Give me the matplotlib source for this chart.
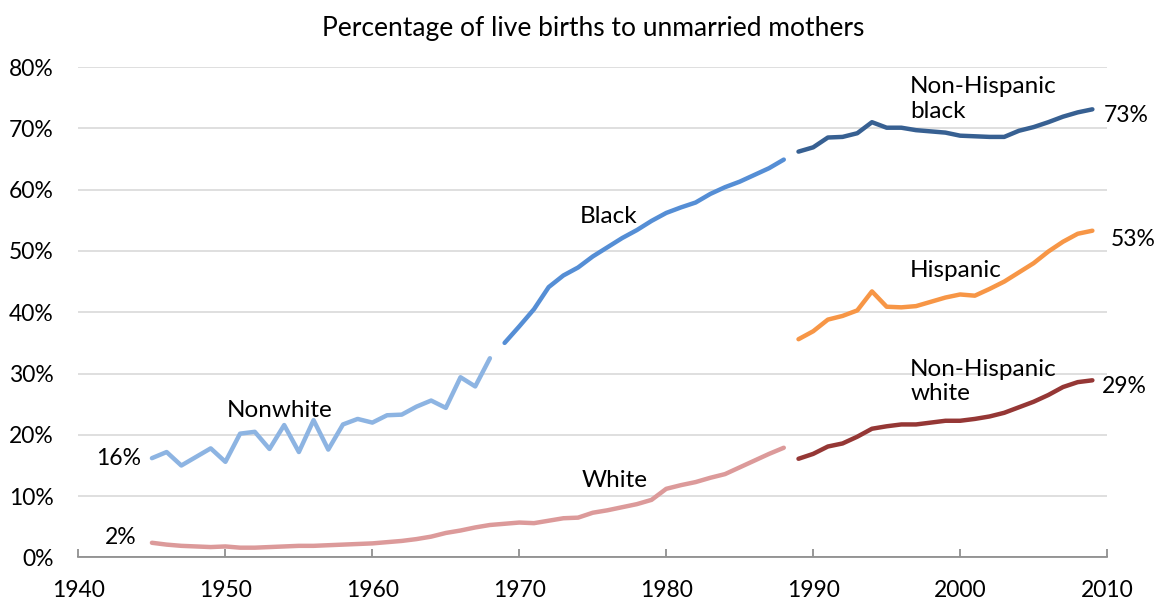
import numpy as np
import matplotlib.pyplot as plt

plt.rcParams['font.family'] = ['Lato', 'DejaVu Sans']

# Percentage of live births to unmarried mothers
nonwhite_years = list(range(1945, 1969))
nonwhite = [16.2, 17.2, 15.0, 16.4, 17.8, 15.6, 20.2, 20.5, 17.7, 21.6, 17.2, 22.4,
            17.6, 21.7, 22.6, 22.0, 23.2, 23.3, 24.6, 25.6, 24.4, 29.4, 27.9, 32.5]

black_years = list(range(1969, 1989))
black = [35.0, 37.7, 40.5, 44.1, 46.0, 47.3, 49.1, 50.6, 52.1, 53.4, 54.9, 56.2,
         57.1, 57.9, 59.3, 60.4, 61.3, 62.4, 63.5, 64.9]

white_years = list(range(1945, 1989))
white = [2.4, 2.1, 1.9, 1.8, 1.7, 1.8, 1.6, 1.6, 1.7, 1.8, 1.9, 1.9, 2.0, 2.1, 2.2,
         2.3, 2.5, 2.7, 3.0, 3.4, 4.0, 4.4, 4.9, 5.3, 5.5, 5.7, 5.6, 6.0, 6.4, 6.5,
         7.3, 7.7, 8.2, 8.7, 9.4, 11.2, 11.8, 12.3, 13.0, 13.6, 14.7, 15.8, 16.9, 17.9]

recent_years = list(range(1989, 2010))
nh_black = [66.2, 66.9, 68.5, 68.6, 69.2, 71.0, 70.1, 70.1, 69.7, 69.5, 69.3, 68.8,
            68.7, 68.6, 68.6, 69.6, 70.2, 71.0, 71.9, 72.6, 73.1]
hispanic = [35.6, 36.9, 38.8, 39.4, 40.3, 43.4, 40.9, 40.8, 41.0, 41.7, 42.4, 42.9,
            42.7, 43.8, 45.0, 46.5, 48.0, 49.9, 51.5, 52.8, 53.3]
nh_white = [16.1, 16.9, 18.1, 18.6, 19.7, 21.0, 21.4, 21.7, 21.7, 22.0, 22.3, 22.3,
            22.6, 23.0, 23.6, 24.5, 25.4, 26.5, 27.8, 28.6, 28.9]

fig = plt.figure(figsize=(11.64, 6.01), dpi=100)
ax = fig.add_axes([0.0674, 0.0724, 0.8837, 0.8161])

lw = 3.2
ax.plot(nonwhite_years, nonwhite, color='#8db4e2', lw=lw, solid_capstyle='round', solid_joinstyle='round')
ax.plot(black_years, black, color='#558ed5', lw=lw, solid_capstyle='round', solid_joinstyle='round')
ax.plot(white_years, white, color='#dc9a9a', lw=lw, solid_capstyle='round', solid_joinstyle='round')
ax.plot(recent_years, nh_black, color='#376092', lw=lw, solid_capstyle='round', solid_joinstyle='round')
ax.plot(recent_years, hispanic, color='#f79646', lw=lw, solid_capstyle='round', solid_joinstyle='round')
ax.plot(recent_years, nh_white, color='#953735', lw=lw, solid_capstyle='round', solid_joinstyle='round')

ax.set_xlim(1940, 2010)
ax.set_ylim(0, 80)
ax.set_xticks(range(1940, 2011, 10))
ax.set_yticks(range(0, 81, 10))
ax.set_yticklabels([f'{v}%' for v in range(0, 81, 10)])
ax.yaxis.grid(True, color='#d9d9d9', lw=1.2)
ax.set_axisbelow(True)
for s in ['top', 'right', 'left']:
    ax.spines[s].set_visible(False)
ax.spines['bottom'].set_color('#868686')
ax.spines['bottom'].set_linewidth(1.2)
ax.tick_params(axis='x', direction='in', length=6, width=1.2, color='#868686',
               labelsize=16.5, pad=16)
ax.tick_params(axis='y', length=0, labelsize=16.5, pad=18)

ax.set_title('Percentage of live births to unmarried mothers', fontsize=19, pad=22)

fs = 17.5
ax.text(1953.7, 24.0, 'Nonwhite', fontsize=fs, ha='center', va='center')
ax.text(1976.1, 55.6, 'Black', fontsize=fs, ha='center', va='center')
ax.text(1976.5, 12.6, 'White', fontsize=fs, ha='center', va='center')
ax.text(1996.6, 74.8, 'Non-Hispanic\nblack', fontsize=fs, ha='left', va='center', linespacing=1.2)
ax.text(1996.6, 46.8, 'Hispanic', fontsize=fs, ha='left', va='center')
ax.text(1996.6, 28.7, 'Non-Hispanic\nwhite', fontsize=fs, ha='left', va='center', linespacing=1.2)

def end_label(x, y, dx, dy, ha):
    ax.annotate(f'{y:.0f}%', xy=(x, y), xytext=(dx, dy), textcoords='offset pixels',
                fontsize=16.5, ha=ha, va='center', annotation_clip=False)

end_label(nonwhite_years[0], nonwhite[0], -11, 0, 'right')
end_label(white_years[0], white[0], -15, 5, 'right')
end_label(recent_years[-1], nh_black[-1], 11, -6, 'left')
end_label(recent_years[-1], hispanic[-1], 18, -9, 'left')
end_label(recent_years[-1], nh_white[-1], 9, -6, 'left')

fig.savefig('out.png', dpi=100)
